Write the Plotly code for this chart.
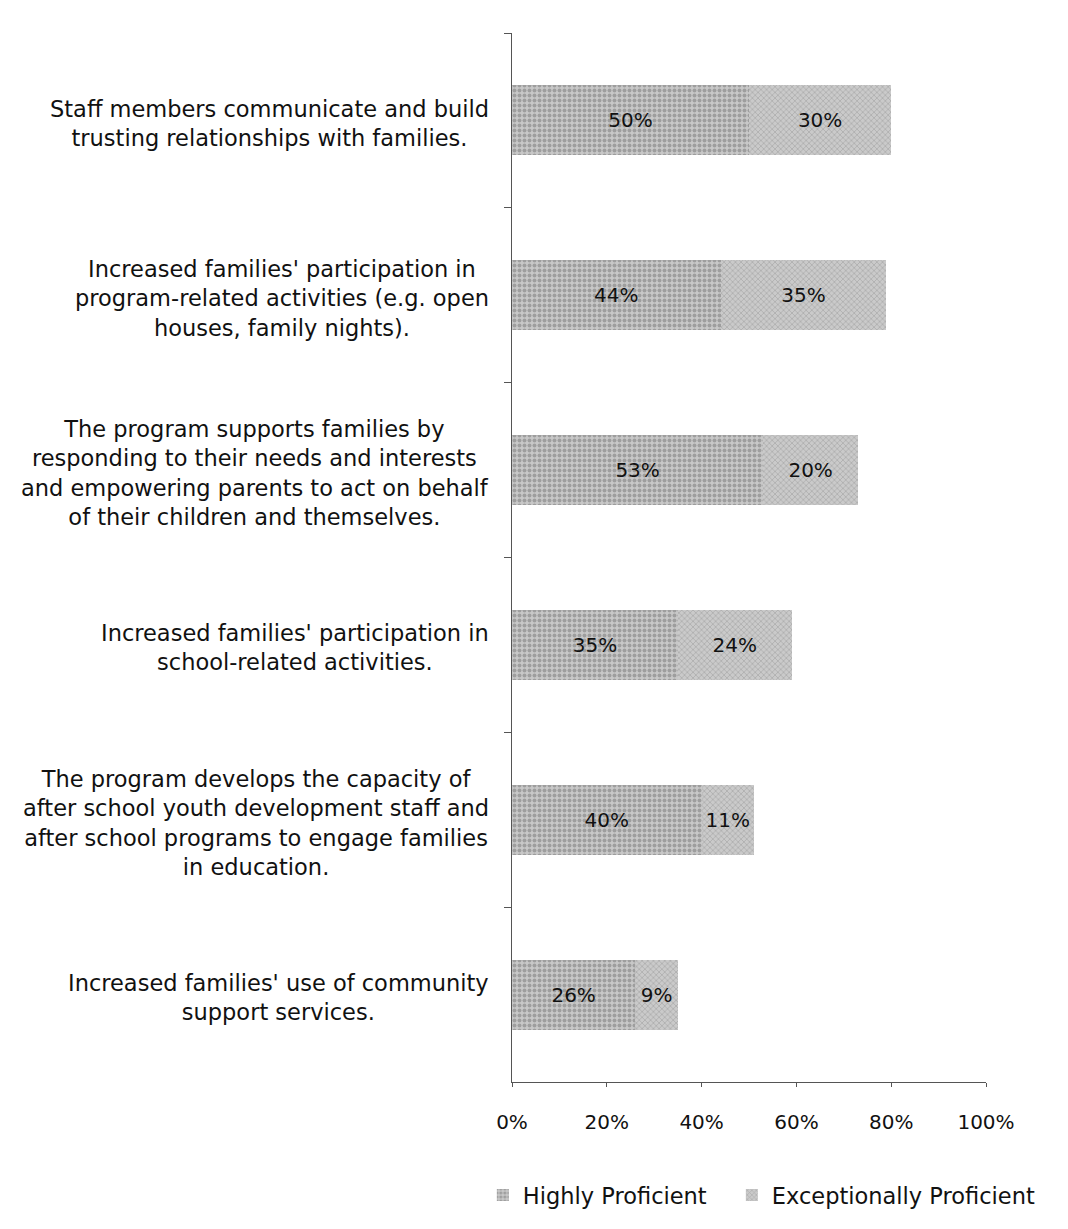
import plotly.graph_objects as go

# Categories, top to bottom as in the chart
categories = [
    "Staff members communicate and build<br>trusting relationships with families.",
    "Increased families' participation in<br>program-related activities (e.g. open<br>houses, family nights).",
    "The program supports families by<br>responding to their needs and interests<br>and empowering parents to act on behalf<br>of their children and themselves.",
    "Increased families' participation in<br>school-related activities.",
    "The program develops the capacity of<br>after school youth development staff and<br>after school programs to engage families<br>in education.",
    "Increased families' use of community<br>support services.",
]
highly_proficient = [50, 44, 53, 35, 40, 26]
exceptionally_proficient = [30, 35, 20, 24, 11, 9]
series_names = ["Highly Proficient", "Exceptionally Proficient"]
x_tick_values = [0, 20, 40, 60, 80, 100]
x_tick_labels = ["0%", "20%", "40%", "60%", "80%", "100%"]

FONT = "DejaVu Sans"
TEXT_COLOR = "#111111"
AXIS_COLOR = "#555555"

fig = go.Figure()

fig.add_trace(
    go.Bar(
        y=categories,
        x=highly_proficient,
        name=series_names[0],
        legendwidth=204,
        orientation='h',
        width=0.4,
        text=[f"{v}%" for v in highly_proficient],
        textposition='inside',
        textangle=0,
        insidetextanchor='middle',
        textfont=dict(family=FONT, size=20, color=TEXT_COLOR),
        marker=dict(
            color="#bdbdbd",
            line=dict(width=0),
            pattern=dict(shape=".", fgcolor="#747474", bgcolor="#c8c8c8", size=5, solidity=0.5),
        ),
    )
)

fig.add_trace(
    go.Bar(
        y=categories,
        x=exceptionally_proficient,
        name=series_names[1],
        orientation='h',
        width=0.4,
        text=[f"{v}%" for v in exceptionally_proficient],
        textposition='inside',
        textangle=0,
        insidetextanchor='middle',
        textfont=dict(family=FONT, size=20, color=TEXT_COLOR),
        marker=dict(
            color="#c0c0c0",
            line=dict(width=0),
            pattern=dict(shape="x", fgcolor="#8c8c8c", bgcolor="#cacaca", size=4, solidity=0.35),
        ),
    )
)

# Category labels as annotations so that multi-line text is centred like the original
for cat in categories:
    fig.add_annotation(
        x=0, xref="paper", xanchor="right", xshift=-21,
        y=cat, yref="y", yanchor="middle", yshift=-3,
        text=cat,
        align="center",
        showarrow=False,
        font=dict(family=FONT, size=22.5, color=TEXT_COLOR),
    )

fig.update_layout(
    width=1068,
    height=1229,
    barmode='stack',
    plot_bgcolor="white",
    paper_bgcolor="white",
    font=dict(family=FONT, size=20, color=TEXT_COLOR),
    margin={"l": 504, "r": 90, "t": 25, "b": 155},
    uniformtext=dict(minsize=20, mode='show'),
    legend=dict(
        orientation='h',
        x=-0.0615, xanchor='left',
        y=-0.108, yanchor='middle',
        font=dict(family=FONT, size=22.5, color=TEXT_COLOR),
        itemwidth=30,
        traceorder='normal',
    ),
)

fig.update_xaxes(
    range=[0, 100],
    tickvals=x_tick_values,
    ticktext=x_tick_labels,
    showgrid=False,
    zeroline=False,
    showline=True,
    linecolor=AXIS_COLOR,
    linewidth=1,
    ticks='outside',
    ticklen=4,
    tickcolor=AXIS_COLOR,
    ticklabelstandoff=18,
    tickfont=dict(family=FONT, size=20, color=TEXT_COLOR),
)

fig.update_yaxes(
    categoryorder='array',
    categoryarray=categories,
    autorange='reversed',
    showticklabels=False,
    showgrid=False,
    showline=True,
    linecolor=AXIS_COLOR,
    linewidth=1,
    ticks='outside',
    tickson='boundaries',
    ticklen=7,
    tickcolor=AXIS_COLOR,
)

fig.write_html("out.html")
